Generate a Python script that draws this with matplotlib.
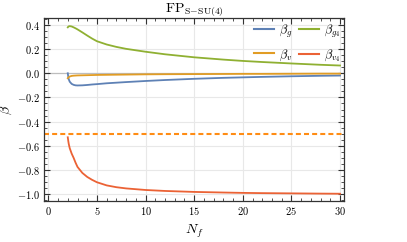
import matplotlib
matplotlib.use("Agg")
import matplotlib.pyplot as plt
from matplotlib.ticker import MultipleLocator, FuncFormatter
from matplotlib.lines import Line2D

plt.rcParams['mathtext.fontset'] = 'cm'
plt.rcParams['font.family'] = ['DejaVu Serif']

# ---- data ----
Nf = [2, 2.05, 2.1, 2.2, 2.4, 2.6, 2.8, 3, 3.5, 4, 4.5, 5, 6, 7, 8, 10, 12, 15, 18, 20, 22, 25, 28, 30]
beta_g4 = [0.380, 0.385, 0.388, 0.390, 0.387, 0.380, 0.372, 0.363, 0.338, 0.312, 0.287, 0.265, 0.238,
           0.218, 0.202, 0.178, 0.157, 0.132, 0.113, 0.102, 0.093, 0.081, 0.070, 0.064]
beta_g = [0.0, -0.03, -0.05, -0.07, -0.088, -0.096, -0.100, -0.101, -0.100, -0.097, -0.093, -0.090, -0.083,
          -0.078, -0.073, -0.064, -0.056, -0.046, -0.038, -0.034, -0.030, -0.025, -0.021, -0.019]
beta_v = [-0.041, -0.036, -0.032, -0.027, -0.022, -0.020, -0.019, -0.018, -0.017, -0.016, -0.015, -0.014,
          -0.013, -0.012, -0.011, -0.009, -0.008, -0.007, -0.006, -0.005, -0.005, -0.004, -0.003, -0.003]
beta_v4 = [-0.53, -0.56, -0.585, -0.62, -0.665, -0.70, -0.74, -0.775, -0.825, -0.858, -0.882, -0.902, -0.928,
           -0.943, -0.953, -0.966, -0.974, -0.982, -0.987, -0.990, -0.992, -0.994, -0.996, -0.997]
ref_level = -0.5

labels = [r'$\beta_g$', r'$\beta_v$', r'$\beta_{g_4}$', r'$\beta_{v_4}$']
colors = ['#5E81B5', '#E19C24', '#8FB032', '#EB6235']

fig = plt.figure(figsize=(4.07, 2.42), dpi=100)
ax = fig.add_axes([0.108, 0.169, 0.737, 0.757])

ax.set_xlim(-0.45, 30.4)
ax.set_ylim(-1.058, 0.458)

# grid
for xv in range(0, 31, 5):
    ax.axvline(xv, color='#e8e8e8', lw=0.8, zorder=0)
for k in range(-5, 3):
    yv = k * 0.2
    if abs(yv) > 1e-9:
        ax.axhline(yv, color='#e8e8e8', lw=0.8, zorder=0)
ax.axhline(0, color='#bdbdbd', lw=0.9, zorder=0.5)

ax.axhline(ref_level, color='#FF8C14', lw=1.5, dashes=(2.4, 1.5), zorder=2)

series = [beta_g, beta_v, beta_g4, beta_v4]
for vals, c in zip(series, colors):
    ax.plot(Nf, vals, color=c, lw=1.3, zorder=3)

ax.xaxis.set_major_locator(MultipleLocator(5))
ax.xaxis.set_minor_locator(MultipleLocator(1))
ax.yaxis.set_major_locator(MultipleLocator(0.2))
ax.yaxis.set_minor_locator(MultipleLocator(0.05))
ax.xaxis.set_major_formatter(FuncFormatter(lambda v, p: r'$\mathbf{%d}$' % round(v)))
ax.yaxis.set_major_formatter(FuncFormatter(lambda v, p: r'$\mathbf{%.1f}$' % v if v >= -1e-9 else r'$\mathbf{-%.1f}$' % abs(v)))
ax.tick_params(which='both', direction='in', top=True, right=True, color='#333333', labelsize=7.5, pad=3)
ax.tick_params(which='major', length=4, width=0.8)
ax.tick_params(which='minor', length=2, width=0.6)
for s in ax.spines.values():
    s.set_color('#333333')
    s.set_linewidth(0.9)

ax.set_xlabel(r'$N_f$', fontsize=10, labelpad=4)
ax.set_ylabel(r'$\beta$', fontsize=10)
ax.yaxis.set_label_coords(-0.1, 0.5)
ax.set_title(r'$\mathrm{FP}_{\mathrm{S\!-\!SU(4)}}$', fontsize=10, pad=3)

handles = [Line2D([], [], color=c, lw=1.5) for c in colors]
ax.legend(handles, labels, ncol=2, loc='upper right', frameon=False, fontsize=9,
          handlelength=1.6, handletextpad=0.4, columnspacing=0.5, labelspacing=0.6,
          borderaxespad=0.1, borderpad=0.3, bbox_to_anchor=(1.003, 1.0))

fig.savefig('out.png', dpi=100)
